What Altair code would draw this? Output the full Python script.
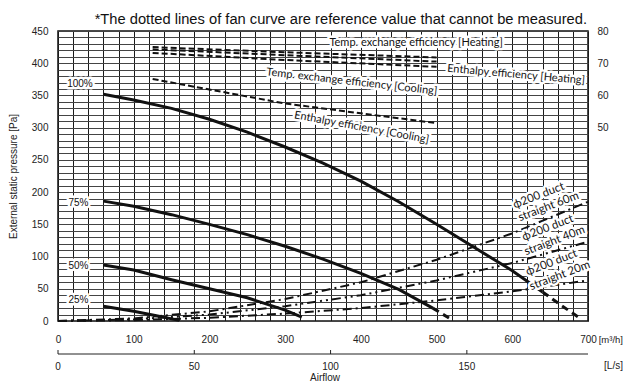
import altair as alt
import pandas as pd

FONT = "Liberation Sans"
LFONT = "Lato"

# ---------------- data ----------------
# Fan curves: airflow [m3/h] vs external static pressure [Pa]
q100 = [60, 100, 150, 200, 250, 300, 350, 400, 450, 500, 550, 600, 640]
p100 = [352, 343, 330, 313, 293, 270, 245, 217, 185, 150, 114, 78, 45]
q100_ext = [640, 665, 690]
p100_ext = [45, 24, 4]
q75 = [60, 100, 150, 200, 250, 300, 350, 400, 450, 495]
p75 = [186, 178, 165, 150, 134, 116, 96, 74, 49, 20]
q75_ext = [495, 520]
p75_ext = [20, 2]
q50 = [60, 100, 150, 200, 250, 300, 322]
p50 = [87, 79, 64, 50, 36, 17, 6]
q25 = [60, 100, 130, 160]
p25 = [23, 15, 8, 1]

# Duct resistance curves
duct_q = [0, 100, 200, 300, 400, 500, 600, 700]
duct60 = [0, 4, 15, 34, 60, 95, 136, 185]
duct40 = [0, 2.5, 10, 23, 40, 63, 90, 123]
duct20 = [0, 1.3, 5, 11.5, 20, 32, 46, 63]

# Efficiency curves [%] (right axis)
eff_q = [125, 300, 500]
eff_temp_heat = [75.0, 73.4, 71.8]
eff_enth_heat = [74.3, 72.5, 70.5]
eff_temp_cool = [73.2, 71.0, 68.9]
eff_enth_cool = [65.1, 57.5, 51.4]

# Labels
pct_labels = ["100%", "75%", "50%", "25%"]
pct_x = [29, 27, 27, 27]
pct_y = [368, 183, 86, 33]

eff_labels = ["Temp. exchange efficiency [Heating]", "Enthalpy efficiency [Heating]",
              "Temp. exchange efficiency [Cooling]", "Enthalpy efficiency [Cooling]"]
eff_lx = [473, 605, 388, 401]
eff_ly = [432, 382, 371, 300]
eff_la = [0, 5, 6.5, 10.5]

duct_labels = ["ϕ200 duct", "straight 60m", "ϕ200 duct", "straight 40m", "ϕ200 duct", "straight 20m"]
duct_lx = [635, 648, 647, 656, 652, 663]
duct_ly = [194, 177, 144, 124, 90, 70]

ls_ticks = [0, 50, 100, 150]
note = "*The dotted lines of fan curve are reference value that cannot be measured."

# ---------------- frames ----------------
def long(series):
    rows = []
    for name, qs, vs in series:
        for q, v in zip(qs, vs):
            rows.append({"s": name, "q": q, "v": v})
    return pd.DataFrame(rows)

fan_solid = long([("100%", q100, p100), ("75%", q75, p75), ("50%", q50, p50), ("25%", q25, p25)])
fan_ext = long([("100%", q100_ext, p100_ext), ("75%", q75_ext, p75_ext)])
ducts = long([("60m", duct_q, duct60), ("40m", duct_q, duct40), ("20m", duct_q, duct20)])
effs = long([("th", eff_q, eff_temp_heat), ("eh", eff_q, eff_enth_heat),
             ("tc", eff_q, eff_temp_cool), ("ec", eff_q, eff_enth_cool)])

pct_df = pd.DataFrame({"t": pct_labels, "q": pct_x, "v": pct_y})
effl_df = pd.DataFrame({"t": eff_labels, "q": eff_lx, "v": eff_ly, "a": eff_la})
ductl_df = pd.DataFrame({"t": duct_labels, "q": duct_lx, "v": duct_ly, "a": [339] * 6})
ls_df = pd.DataFrame({"ls": ls_ticks, "q": [v * 3.6 for v in ls_ticks], "t": [str(v) for v in ls_ticks]})
line_df = pd.DataFrame({"q": [0], "b": [700]})

xs = alt.Scale(domain=[0, 700], nice=False, zero=False)
ps = alt.Scale(domain=[0, 450], nice=False)
es = alt.Scale(domain=[-10, 80], nice=False)

x_axis = alt.Axis(values=list(range(0, 701, 20)),
                  labelExpr="datum.value % 100 == 0 ? datum.label : ''",
                  grid=True, gridColor="#1a1a1a", gridWidth=1, labelFlush=False,
                  labelOverlap=False, labelPadding=13, title=None)
y_axis = alt.Axis(values=list(range(0, 451, 10)),
                  labelExpr="datum.value % 50 == 0 ? datum.label : ''",
                  grid=True, gridColor="#444", gridWidth=1, labelOverlap=False,
                  labelPadding=10, title="External static pressure [Pa]",
                  titleFont=FONT, titleFontSize=10, titleFontWeight="normal",
                  titleColor="#222", titleX=-45, titleY=145, titleAngle=270,
                  titleBaseline="middle", titleAlign="center")
e_axis = alt.Axis(orient="right", values=[50, 60, 70, 80], grid=False, labelPadding=9, title=None)

X = alt.X("q:Q", scale=xs, axis=x_axis)
Yp = alt.Y("v:Q", scale=ps, axis=y_axis)
Ypn = alt.Y("v:Q", scale=ps, axis=None)
Ye = alt.Y("v:Q", scale=es, axis=e_axis)

# pressure group (lines)
fan_l = alt.Chart(fan_solid).mark_line(color="#111", strokeWidth=3).encode(x=X, y=Yp, detail="s:N")
fan_e = alt.Chart(fan_ext).mark_line(color="#111", strokeWidth=3, strokeDash=[7, 5]).encode(
    x=X, y=Yp, detail="s:N")
duct_l = alt.Chart(ducts).mark_line(color="#111", strokeWidth=2).encode(
    x=X, y=Yp, detail="s:N",
    strokeDash=alt.StrokeDash("s:N", scale=alt.Scale(domain=["60m", "40m", "20m"],
                                                    range=[[9, 4, 2, 4], [9, 4, 2, 4, 2, 4], [9, 4, 2, 4]]),
                              legend=None))
group_p = alt.layer(fan_l, fan_e, duct_l)

# efficiency group
eff_l = alt.Chart(effs).mark_line(color="#111", strokeWidth=2, strokeDash=[6, 3]).encode(
    x=X, y=Ye, detail="s:N")
group_e = alt.layer(eff_l)

# text group in pressure coordinates (no own y axis)
def halo_text(df, size, font, width, angle=True):
    enc = dict(x=X, y=Ypn, text="t:N")
    if angle:
        enc["angle"] = alt.Angle("a:Q", scale=None)
    h = alt.Chart(df).mark_text(font=font, fontSize=size, color="white", stroke="white",
                                strokeWidth=width, strokeJoin="round").encode(**enc)
    t = alt.Chart(df).mark_text(font=font, fontSize=size, color="#111").encode(**enc)
    return [h, t]

pct_t = halo_text(pct_df, 10, FONT, 5, angle=False)
effl_t = halo_text(effl_df, 11, LFONT, 5)
ductl_t = halo_text(ductl_df, 11.5, LFONT, 5)

ls_line = alt.Chart(line_df).mark_rule(color="#222", strokeWidth=1).encode(
    x=X, x2="b:Q", y=alt.value(323))
ls_tick = alt.Chart(ls_df).mark_rule(color="#222", strokeWidth=1).encode(
    x=X, y=alt.value(319), y2=alt.value(323))
ls_lab = alt.Chart(ls_df).mark_text(font=FONT, fontSize=10, color="#222").encode(
    x=X, y=alt.value(336), text="t:N")
misc = pd.DataFrame({"t": ["[m³/h]", "[L/s]", "Airflow", note]})
unit1 = alt.Chart(misc[misc.t == "[m³/h]"]).mark_text(font=FONT, fontSize=9.5, color="#222", align="right").encode(
    x=alt.value(565), y=alt.value(309), text="t:N")
unit2 = alt.Chart(misc[misc.t == "[L/s]"]).mark_text(font=FONT, fontSize=10, color="#222", align="right").encode(
    x=alt.value(565), y=alt.value(335), text="t:N")
airflow = alt.Chart(misc[misc.t == "Airflow"]).mark_text(font=FONT, fontSize=10, color="#222").encode(
    x=alt.value(267), y=alt.value(347), text="t:N")
title = alt.Chart(misc[misc.t == note]).mark_text(font=FONT, fontSize=14.7, color="#111", align="right").encode(
    x=alt.value(529), y=alt.value(-11), text="t:N")

group_t = alt.layer(*pct_t, *effl_t, *ductl_t, ls_line, ls_tick, ls_lab, unit1, unit2, airflow, title)

chart = alt.layer(group_p, group_e, group_t).resolve_scale(y="independent").properties(
    width=530, height=290,
    autosize=alt.AutoSizeParams(type="none"),
    padding={"left": 50, "top": 23, "right": 35, "bottom": 62},
).configure_view(stroke="#111", strokeWidth=1.5).configure_axis(
    labelFont=FONT, labelFontSize=10, labelColor="#222", ticks=False, domain=False)

chart.save("out.html", embed_options={"renderer": "svg", "actions": False})
